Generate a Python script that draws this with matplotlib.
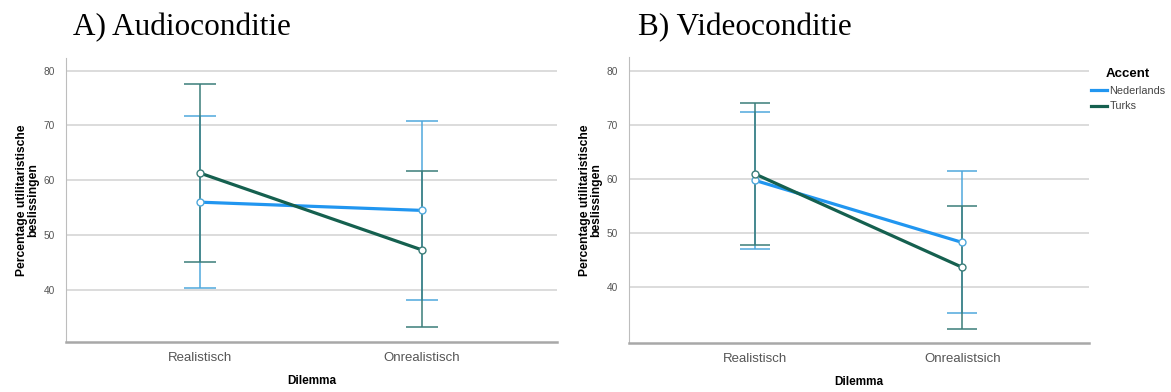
import numpy as np
import matplotlib.pyplot as plt

# data (means and 95% CI bounds)
dilemma_a = ["Realistisch", "Onrealistisch"]
dilemma_b = ["Realistisch", "Onrealistsich"]
accenten = ["Nederlands", "Turks"]

audio_mean = {"Nederlands": [56.0, 54.5], "Turks": [61.3, 47.3]}
audio_lo = {"Nederlands": [40.4, 38.1], "Turks": [45.1, 33.2]}
audio_hi = {"Nederlands": [71.7, 70.8], "Turks": [77.6, 61.6]}

video_mean = {"Nederlands": [59.8, 48.3], "Turks": [61.0, 43.7]}
video_lo = {"Nederlands": [47.1, 35.2], "Turks": [47.9, 32.2]}
video_hi = {"Nederlands": [72.4, 61.6], "Turks": [74.0, 55.1]}

kleuren = {"Nederlands": "#2196f0", "Turks": "#15604f"}
kleuren_ci = {"Nederlands": "#4fa8dc", "Turks": "#3b7d79"}

plt.rcParams['font.family'] = ['Liberation Sans', 'DejaVu Sans']

fig = plt.figure(figsize=(11.71, 3.92), dpi=100)
ax1 = fig.add_axes([0.0564, 0.1276, 0.4193, 0.7245])
ax2 = fig.add_axes([0.5371, 0.1250, 0.3928, 0.7296])


def teken(ax, cats, mean, lo, hi, ylim, capsize):
    x = np.arange(len(cats))
    for acc in accenten:
        m = np.array(mean[acc])
        err = np.vstack([m - np.array(lo[acc]), np.array(hi[acc]) - m])
        ax.errorbar(x, m, yerr=err, fmt='none', ecolor=kleuren_ci[acc],
                    elinewidth=1.1, capsize=capsize, capthick=1.1, zorder=3)
    for acc in accenten:
        ax.plot(x, mean[acc], color=kleuren[acc], lw=2.3, marker='o', ms=5,
                mfc='white', mec=kleuren_ci[acc], mew=1.0, label=acc, zorder=4)
    ax.set_xlim(-0.605, 1.61)
    ax.set_ylim(*ylim)
    ax.set_xticks(x)
    ax.set_xticklabels(cats, fontsize=9.5, color='#555555')
    ax.set_yticks([40, 50, 60, 70, 80])
    ax.tick_params(axis='y', labelsize=7.3, labelcolor='#555555', length=0, pad=8)
    ax.tick_params(axis='x', length=0, pad=7)
    ax.grid(axis='y', color='#d6d6d6', lw=1.2)
    ax.set_axisbelow(True)
    for s in ['top', 'right']:
        ax.spines[s].set_visible(False)
    ax.spines['left'].set_color('#bdbdbd')
    ax.spines['bottom'].set_color('#a8a8a8')
    ax.spines['bottom'].set_linewidth(1.8)
    ax.set_xlabel("Dilemma", fontsize=8.5, fontweight='bold', labelpad=8)
    ax.set_ylabel("Percentage utilitaristische\nbeslissingen", fontsize=8.7,
                  fontweight='bold', labelpad=3, linespacing=0.95)


teken(ax1, dilemma_a, audio_mean, audio_lo, audio_hi, (30.5, 82.3), 11.5)
teken(ax2, dilemma_b, video_mean, video_lo, video_hi, (29.7, 82.6), 11)

leg = ax2.legend(title="Accent", loc='upper left', bbox_to_anchor=(0.995, 0.975),
                 frameon=False, fontsize=7.8, handlelength=1.5, handletextpad=0.2,
                 labelspacing=0.5, borderaxespad=0.0)
leg.get_title().set_fontweight('bold')
leg.get_title().set_fontsize(9.5)
for t in leg.get_texts():
    t.set_color('#444444')
for h in leg.get_lines():
    h.set_marker('')

fig.text(73 / 1171, 1 - 35 / 392, "A) Audioconditie", fontsize=22.5,
         family=['Liberation Serif', 'DejaVu Serif'], va='baseline')
fig.text(638 / 1171, 1 - 35 / 392, "B) Videoconditie", fontsize=22.5,
         family=['Liberation Serif', 'DejaVu Serif'], va='baseline')

fig.savefig("out.png", dpi=100, facecolor='white')
